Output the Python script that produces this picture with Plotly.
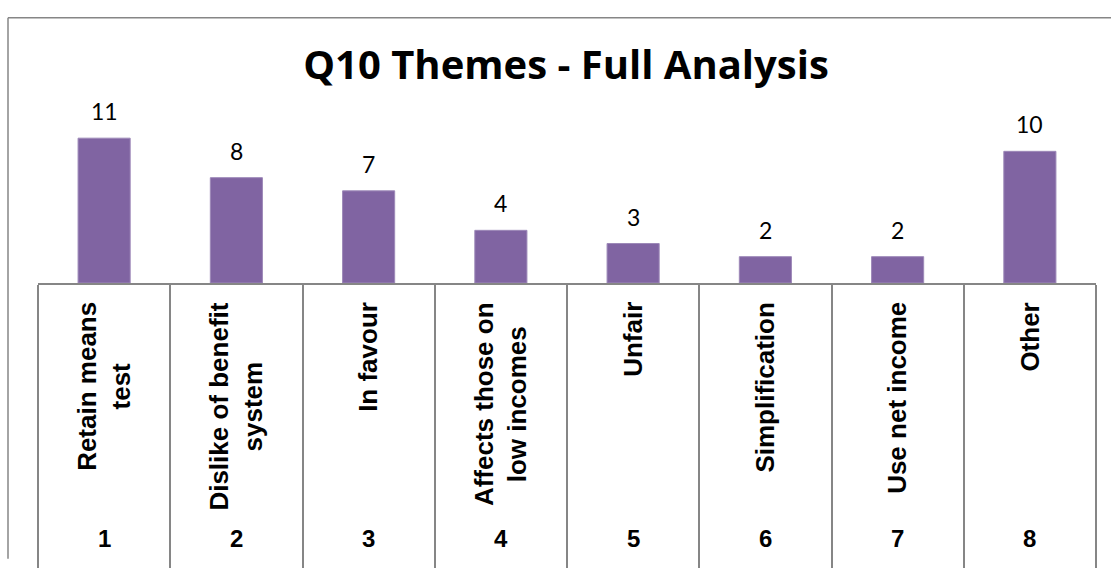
import plotly.graph_objects as go

themes = ["Retain means<br>test", "Dislike of benefit<br>system", "In favour",
          "Affects those on<br>low incomes", "Unfair", "Simplification",
          "Use net income", "Other"]
theme_numbers = ["1", "2", "3", "4", "5", "6", "7", "8"]
counts = [11, 8, 7, 4, 3, 2, 2, 10]

W, H = 1111, 578
L, T = 38, 125
R = W - 1096
B = H - 290
plot_h = H - T - B
plot_w = W - L - R


def px_x(x):
    return (x - L) / plot_w


def px_y(y):
    return (H - B - y) / plot_h


fig = go.Figure(go.Bar(
    x=themes,
    y=counts,
    width=0.394,
    marker=dict(color="#8064A2", line=dict(color="#9d89b8", width=1)),
    hoverinfo="x+y",
))

annotations = []
for t, n, c in zip(themes, theme_numbers, counts):
    # value label above each bar
    annotations.append(dict(
        x=t, y=c, xref="x", yref="y", text=str(c), showarrow=False,
        yanchor="middle", yshift=27,
        font=dict(family="Lato", size=23, color="#000000"),
    ))
    # rotated theme name
    annotations.append(dict(
        x=t, y=px_y(308), xref="x", yref="paper", text=f"<b>{t}</b>",
        showarrow=False, textangle=-90, xanchor="center", yanchor="top",
        align="center",
        font=dict(family="Liberation Sans", size=26, color="#000000"),
    ))
    # theme number row
    annotations.append(dict(
        x=t, y=px_y(557), xref="x", yref="paper", text=f"<b>{n}</b>",
        showarrow=False, yanchor="middle",
        font=dict(family="Liberation Sans", size=24, color="#000000"),
    ))

# chart frame: only the top and left edges fall inside the window
frame = dict(color="#868686", width=1.5)
shapes = [
    dict(type="line", xref="paper", yref="paper",
         x0=px_x(8), x1=px_x(W), y0=px_y(13), y1=px_y(13), line=frame),
    dict(type="line", xref="paper", yref="paper",
         x0=px_x(8), x1=px_x(8), y0=px_y(13), y1=px_y(H), line=frame),
]

fig.update_layout(
    width=W, height=H,
    margin=dict(l=L, r=R, t=T, b=B),
    paper_bgcolor="white", plot_bgcolor="white",
    showlegend=False,
    title=dict(
        text="<b>Q10 Themes - Full Analysis</b>",
        x=566 / W, xanchor="center", xref="container",
        y=1 - 65 / H, yanchor="middle",
        font=dict(family="Open Sans", size=40, color="#000000"),
    ),
    xaxis=dict(
        type="category",
        showline=True, linecolor="#868686", linewidth=1.5,
        ticks="outside", tickson="boundaries", ticklen=283,
        tickcolor="#868686", tickwidth=1.5,
        showticklabels=False, showgrid=False, zeroline=False,
    ),
    yaxis=dict(
        range=[0, 12], visible=False, showgrid=False, zeroline=False,
    ),
    annotations=annotations,
    shapes=shapes,
)

# drop the default 8px page margin so the figure sits flush in the window
fig.write_html("out.html", config={"displayModeBar": False},
               post_script="document.body.style.margin='0px';")
